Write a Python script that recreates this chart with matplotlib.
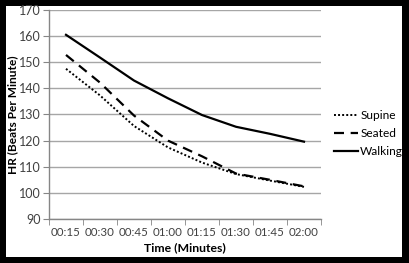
import matplotlib.pyplot as plt
from matplotlib.patches import Rectangle

plt.rcParams['font.family'] = ['Lato', 'DejaVu Sans']

# Datos
times = ["00:15", "00:30", "00:45", "01:00", "01:15", "01:30", "01:45", "02:00"]
supine = [147.5, 137.3, 125.6, 117.4, 111.6, 107.2, 104.7, 102.3]
seated = [152.8, 142.2, 129.6, 120.0, 114.0, 107.4, 105.0, 102.5]
walking = [160.5, 151.8, 143.0, 136.2, 129.8, 125.3, 122.6, 119.6]

fig = plt.figure(figsize=(4.10, 2.63), dpi=100, facecolor='black')
# marco blanco dentro del borde negro
fig.patches.append(Rectangle((6 / 410, 6 / 263), 396 / 410, 251 / 263,
                             transform=fig.transFigure, facecolor='white',
                             edgecolor='none', zorder=-10))

ax = fig.add_axes([49 / 410, 44 / 263, 272 / 410, 209 / 263])
ax.set_facecolor('white')

x = list(range(len(times)))
ax.plot(x, supine, color='black', linestyle=(0, (1, 1.1)), linewidth=1.4, label='Supine')
ax.plot(x, seated, color='black', linestyle=(0, (4.5, 3)), linewidth=1.6, label='Seated')
ax.plot(x, walking, color='black', linestyle='-', linewidth=1.6, label='Walking')

ax.set_xlim(-0.5, len(times) - 0.5)
ax.set_ylim(90, 170)
ax.set_yticks(range(90, 171, 10))
ax.yaxis.grid(True, color='#a6a6a6', linewidth=1.0)
ax.set_axisbelow(True)

ax.set_xticks(x)
ax.set_xticklabels(times)
ax.set_xticks([i - 0.5 for i in range(len(times) + 1)], minor=True)
ax.tick_params(axis='x', which='major', length=0, pad=6, labelsize=8.3, labelcolor='#404040')
ax.tick_params(axis='x', which='minor', length=4, color='#868686', direction='out')
ax.tick_params(axis='y', length=4, color='#868686', labelsize=9, labelcolor='#404040', pad=2)

for side in ['top', 'right']:
    ax.spines[side].set_visible(False)
for side in ['left', 'bottom']:
    ax.spines[side].set_color('#868686')
    ax.spines[side].set_linewidth(1.0)

ax.set_xlabel("Time (Minutes)", fontsize=8.8, fontweight='bold', color='black', labelpad=3)
ax.set_ylabel("HR (Beats Per Minute)", fontsize=8.6, fontweight='bold', color='black')
ax.yaxis.set_label_coords(-0.113, 0.5)

ax.legend(loc='upper left', bbox_to_anchor=(1.03, 0.545), frameon=False, fontsize=8.6,
          handlelength=2.0, handletextpad=0.2, labelspacing=0.6, borderaxespad=0)

fig.savefig("out.png", dpi=100, facecolor='black')
